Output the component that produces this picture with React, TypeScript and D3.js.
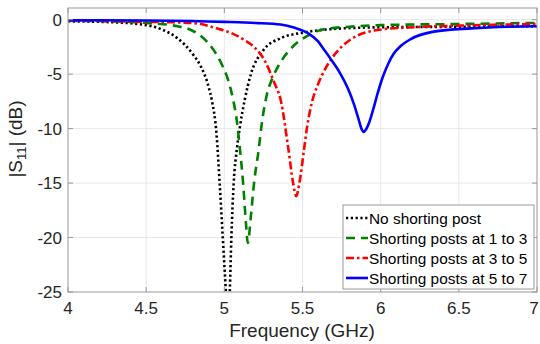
import React from 'react';
import * as d3 from 'd3';

// frequency (GHz) / |S11| (dB)
const freqNoPost = [4.0, 4.3, 4.5, 4.6, 4.7, 4.8, 4.85, 4.9, 4.92, 4.95, 4.97, 4.99, 5.01, 5.025, 5.035, 5.045, 5.06, 5.08, 5.1, 5.13, 5.17, 5.25, 5.36, 5.5, 5.7, 6.0, 6.5, 7.0];
const s11NoPost = [-0.15, -0.25, -0.5, -0.9, -1.7, -3.2, -4.3, -6.2, -7.4, -10.5, -15, -20, -25, -29, -25, -20, -15, -11.9, -9.8, -7.4, -5, -2.8, -1.7, -1.2, -0.85, -0.7, -0.65, -0.6];

const freqPosts13 = [4.0, 4.4, 4.5, 4.7, 4.78, 4.85, 4.93, 4.99, 5.03, 5.06, 5.08, 5.1, 5.12, 5.14, 5.15, 5.17, 5.19, 5.22, 5.24, 5.27, 5.31, 5.36, 5.45, 5.53, 5.63, 5.8, 6.0, 6.5, 7.0];
const s11Posts13 = [-0.1, -0.2, -0.3, -0.6, -0.9, -1.5, -2.75, -4.3, -5.8, -7.6, -9.3, -11.9, -15, -19, -20.5, -18, -15, -11.9, -9.5, -7.0, -5.3, -3.9, -2.3, -1.5, -0.9, -0.65, -0.5, -0.4, -0.3];

const freqPosts35 = [4.0, 4.5, 4.7, 4.83, 4.95, 5.04, 5.12, 5.19, 5.26, 5.32, 5.36, 5.41, 5.44, 5.46, 5.48, 5.51, 5.53, 5.56, 5.6, 5.65, 5.7, 5.81, 5.98, 6.2, 6.5, 7.0];
const s11Posts35 = [-0.05, -0.2, -0.25, -0.35, -0.8, -1.2, -1.8, -2.5, -3.8, -5.8, -7.35, -11.9, -15, -16.2, -15, -11.9, -9.8, -7.6, -5.9, -4.4, -3.3, -1.8, -0.95, -0.7, -0.55, -0.4];

const freqPosts57 = [4.0, 4.5, 5.0, 5.2, 5.36, 5.45, 5.53, 5.6, 5.63, 5.68, 5.74, 5.79, 5.83, 5.86, 5.88, 5.89, 5.905, 5.93, 5.955, 5.98, 6.01, 6.05, 6.08, 6.13, 6.19, 6.34, 6.58, 7.0];
const s11Posts57 = [-0.05, -0.08, -0.2, -0.3, -0.45, -0.75, -1.2, -2, -2.6, -3.6, -4.9, -6.3, -7.8, -9.2, -10.1, -10.3, -10.1, -9.3, -8.1, -6.8, -5.4, -4.0, -3.2, -2.4, -1.8, -1.1, -0.8, -0.6];

const legendLabels = ['No shorting post', 'Shorting posts at 1 to 3', 'Shorting posts at 3 to 5', 'Shorting posts at 5 to 7'];
const xTicks = [4, 4.5, 5, 5.5, 6, 6.5, 7];
const yTicks = [0, -5, -10, -15, -20, -25];

const series = [
  { x: freqNoPost, y: s11NoPost, color: '#000000', dash: '2.2,2.6' },
  { x: freqPosts13, y: s11Posts13, color: '#008000', dash: '9,6' },
  { x: freqPosts35, y: s11Posts35, color: '#ff0000', dash: '8,3,2.5,3' },
  { x: freqPosts57, y: s11Posts57, color: '#0000ff', dash: null },
];

const W = 540, H = 344;
const left = 68, right = 537, top = 8, bottom = 292;

export default function App() {
  const x = d3.scaleLinear().domain([4, 7]).range([left, right]);
  const y = d3.scaleLinear().domain([-25, 1.07]).range([bottom, top]);

  const line = d3.line<[number, number]>()
    .x(d => x(d[0]))
    .y(d => y(d[1]))
    .curve(d3.curveMonotoneX);

  const font = 'Arial, "Liberation Sans", Helvetica, sans-serif';
  const axisColor = '#999999';
  const textColor = '#262626';

  const lx = 343, ly = 205, lw = 191, lh = 84;

  return (
    <svg width={W} height={H} style={{ position: 'absolute', left: 0, top: 0, background: '#fff' }}>
      <defs>
        <clipPath id="plot">
          <rect x={left} y={top} width={right - left} height={bottom - top} />
        </clipPath>
      </defs>

      {/* grid */}
      {xTicks.slice(1, -1).map(t => (
        <line key={'gx' + t} x1={x(t)} x2={x(t)} y1={top} y2={bottom} stroke="#e8e8e8" strokeWidth={1} />
      ))}
      {yTicks.slice(0, -1).map(t => (
        <line key={'gy' + t} x1={left} x2={right} y1={y(t)} y2={y(t)} stroke="#e8e8e8" strokeWidth={1} />
      ))}

      {/* curves */}
      <g clipPath="url(#plot)">
        {series.map((s, i) => (
          <path
            key={i}
            d={line(s.x.map((f, j) => [f, s.y[j]] as [number, number])) || ''}
            fill="none"
            stroke={s.color}
            strokeWidth={2.6}
            strokeDasharray={s.dash || undefined}
          />
        ))}
      </g>

      {/* box + ticks */}
      <rect x={left} y={top} width={right - left} height={bottom - top} fill="none" stroke={axisColor} strokeWidth={1} />
      {xTicks.map(t => (
        <g key={'tx' + t}>
          <line x1={x(t)} x2={x(t)} y1={bottom} y2={bottom - 5} stroke={axisColor} />
          <line x1={x(t)} x2={x(t)} y1={top} y2={top + 5} stroke={axisColor} />
          <text x={Math.min(x(t), W - 6)} y={314} textAnchor="middle" fontFamily={font} fontSize={17} fill={textColor}>{t}</text>
        </g>
      ))}
      {yTicks.map(t => (
        <g key={'ty' + t}>
          <line x1={left} x2={left + 5} y1={y(t)} y2={y(t)} stroke={axisColor} />
          <line x1={right} x2={right - 5} y1={y(t)} y2={y(t)} stroke={axisColor} />
          <text x={62} y={y(t) + 6} textAnchor="end" fontFamily={font} fontSize={17} fill={textColor}>{t}</text>
        </g>
      ))}

      {/* axis labels */}
      <text x={302} y={337} textAnchor="middle" fontFamily={font} fontSize={19} fill={textColor}>Frequency (GHz)</text>
      <text transform={`translate(22, ${139}) rotate(-90)`} textAnchor="middle" fontFamily={font} fontSize={19} fill={textColor}>
        |S<tspan fontSize={13} dy={4}>11</tspan><tspan dy={-4}>| (dB)</tspan>
      </text>

      {/* legend */}
      <rect x={lx} y={ly} width={lw} height={lh} fill="#fff" stroke={axisColor} strokeWidth={1} />
      {legendLabels.map((lab, i) => {
        const cy = 218 + i * 20;
        const s = series[i];
        return (
          <g key={lab}>
            <line x1={lx + 3} x2={lx + 25} y1={cy} y2={cy} stroke={s.color} strokeWidth={2.6}
              strokeDasharray={s.dash || undefined} />
            <text x={lx + 26} y={cy + 6} fontFamily={font} fontSize={15.4} fill="#000">{lab}</text>
          </g>
        );
      })}
    </svg>
  );
}
